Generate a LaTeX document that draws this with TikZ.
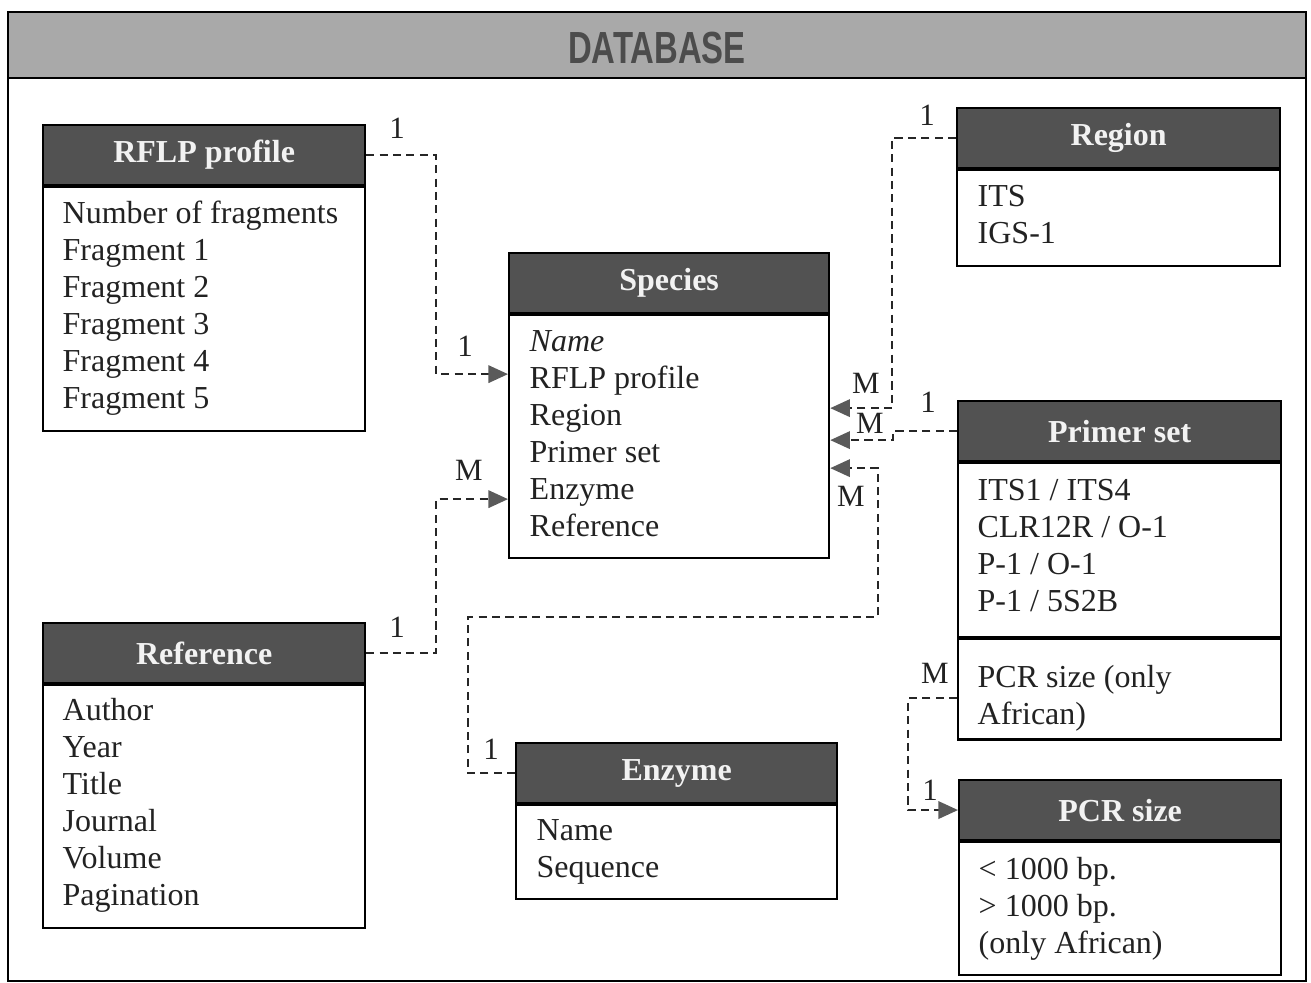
\documentclass[tikz,border=0pt]{standalone}
\usepackage{fontspec}
\setmainfont{Liberation Serif}
\newfontfamily\dbfont{Liberation Sans}
\usetikzlibrary{arrows.meta,calc}
\definecolor{hdrgray}{HTML}{525252}
\definecolor{bandgray}{HTML}{A9A9A9}
\definecolor{dbtext}{HTML}{4C4C4C}
\definecolor{titlecol}{HTML}{F2F2F2}
\definecolor{textcol}{HTML}{222222}
\definecolor{tipgray}{HTML}{5A5A5A}
\begin{document}
\begin{tikzpicture}[x=0.01cm,y=-0.01cm,
  hdr/.style={draw=black, fill=hdrgray, line width=0.6pt, anchor=north west,
    minimum width=#1, minimum height=0.6cm, inner sep=0pt, text=titlecol,
    font=\fontsize{9.1}{10.5}\selectfont\bfseries},
  bodybox/.style n args={2}{draw=black, line width=0.6pt, anchor=north west,
    minimum width=#1, minimum height=#2, inner sep=0pt},
  txt/.style={anchor=north west, align=left, inner sep=0pt, text=textcol,
    font=\fontsize{9.1}{10.53}\selectfont},
  card/.style={inner sep=0pt, text=textcol, font=\fontsize{8.8}{10}\selectfont},
  conn/.style={draw=black!85, line width=0.55pt, dash pattern=on 2.3pt off 1.5pt},
  arr/.style={conn, -{Triangle[length=5.6pt,width=5pt,color=tipgray]}}
]
\useasboundingbox (0,0) rectangle (1311,983);
% frame and band
\fill[bandgray] (8,12) rectangle (1306,78);
\draw[line width=0.6pt] (8,12) rectangle (1306,981);
\draw[line width=0.4pt] (8,78) -- (1306,78);
\node[inner sep=0pt, text=dbtext, font=\dbfont\fontsize{12.8}{14}\selectfont\bfseries, xscale=0.73] (db) at (657,48) {DATABASE};

% RFLP profile
\node[hdr=3.22cm] (rflph) at (42,124) {RFLP profile};
\node[bodybox={3.22cm}{2.44cm}] (rflpb) at (rflph.south west) {};
\node[txt] (rflpt) at ($(rflpb.north west)+(20,13)$) {\rule{0pt}{0.75em}Number of fragments\\Fragment 1\\Fragment 2\\Fragment 3\\Fragment 4\\Fragment 5};

% Species
\node[hdr=3.20cm] (sph) at (508,252) {Species};
\node[bodybox={3.20cm}{2.43cm}] (spb) at (sph.south west) {};
\node[txt] (spt) at ($(spb.north west)+(21,13)$) {\rule{0pt}{0.75em}\textit{Name}\\RFLP profile\\Region\\Primer set\\Enzyme\\Reference};

% Region
\node[hdr=3.23cm] (regh) at (956,107) {Region};
\node[bodybox={3.23cm}{0.96cm}] (regb) at (regh.south west) {};
\node[txt] (regt) at ($(regb.north west)+(21,13)$) {\rule{0pt}{0.75em}ITS\\IGS-1};

% Primer set
\node[hdr=3.23cm] (prih) at (957,400) {Primer set};
\node[bodybox={3.23cm}{1.74cm}] (prib) at (prih.south west) {};
\node[txt] (prit) at ($(prib.north west)+(20,14)$) {\rule{0pt}{0.75em}ITS1 / ITS4\\CLR12R / O-1\\P-1 / O-1\\P-1 / 5S2B};
\node[bodybox={3.23cm}{1.00cm}] (pri2) at (prib.south west) {};
\node[txt] (pri2t) at ($(pri2.north west)+(20,24)$) {\rule{0pt}{0.75em}PCR size (only\\African)};

% Reference
\node[hdr=3.22cm] (refh) at (42,622) {Reference};
\node[bodybox={3.22cm}{2.43cm}] (refb) at (refh.south west) {};
\node[txt] (reft) at ($(refb.north west)+(20,12)$) {\rule{0pt}{0.75em}Author\\Year\\Title\\Journal\\Volume\\Pagination};

% Enzyme
\node[hdr=3.21cm] (enzh) at (515,742) {Enzyme};
\node[bodybox={3.21cm}{0.94cm}] (enzb) at (enzh.south west) {};
\node[txt] (enzt) at ($(enzb.north west)+(21,12)$) {\rule{0pt}{0.75em}Name\\Sequence};

% PCR size
\node[hdr=3.22cm] (pcrh) at (958,779) {PCR size};
\node[bodybox={3.22cm}{1.33cm}] (pcrb) at (pcrh.south west) {};
\node[txt] (pcrt) at ($(pcrb.north west)+(20,14)$) {\rule{0pt}{0.75em}< 1000 bp.\\> 1000 bp.\\(only African)};

% connector end points on Species
\coordinate (spL1) at ($(spb.north west)+(0,60)$);
\coordinate (spL2) at ($(spb.north west)+(0,185)$);
\coordinate (spR1) at ($(spb.north east)+(0,94)$);
\coordinate (spR2) at ($(spb.north east)+(0,126)$);
\coordinate (spR3) at ($(spb.north east)+(0,154)$);
\coordinate (e5) at (878,617);
\coordinate (p6) at ($(pri2.west)+(0,9)$);

% connectors
\draw[arr] (rflph.east) -- ++(70,0) |- (spL1);
\draw[arr] (refh.east) -- ++(70,0) |- (spL2);
\draw[arr] (regh.west) -- ++(-64,0) |- (spR1);
\draw[arr] (prih.west) -- ++(-64,0) |- (spR2);
\draw[arr] (enzh.west) -- ++(-47,0) |- (e5) |- (spR3);
\draw[arr] (p6) -- ++(-49,0) |- (pcrh.west);

% cardinality labels
\node[card] (c1) at (397,128) {1};
\node[card] (c2) at (465,346) {1};
\node[card] (c3) at (469,470) {M};
\node[card] (c4) at (397,627) {1};
\node[card] (c5) at (927,115) {1};
\node[card] (c6) at (866,383) {M};
\node[card] (c7) at (928,402) {1};
\node[card] (c8) at (870,423) {M};
\node[card] (c9) at (851,496) {M};
\node[card] (c10) at (491,749) {1};
\node[card] (c11) at (935,673) {M};
\node[card] (c12) at (930,790) {1};
\end{tikzpicture}
\end{document}
